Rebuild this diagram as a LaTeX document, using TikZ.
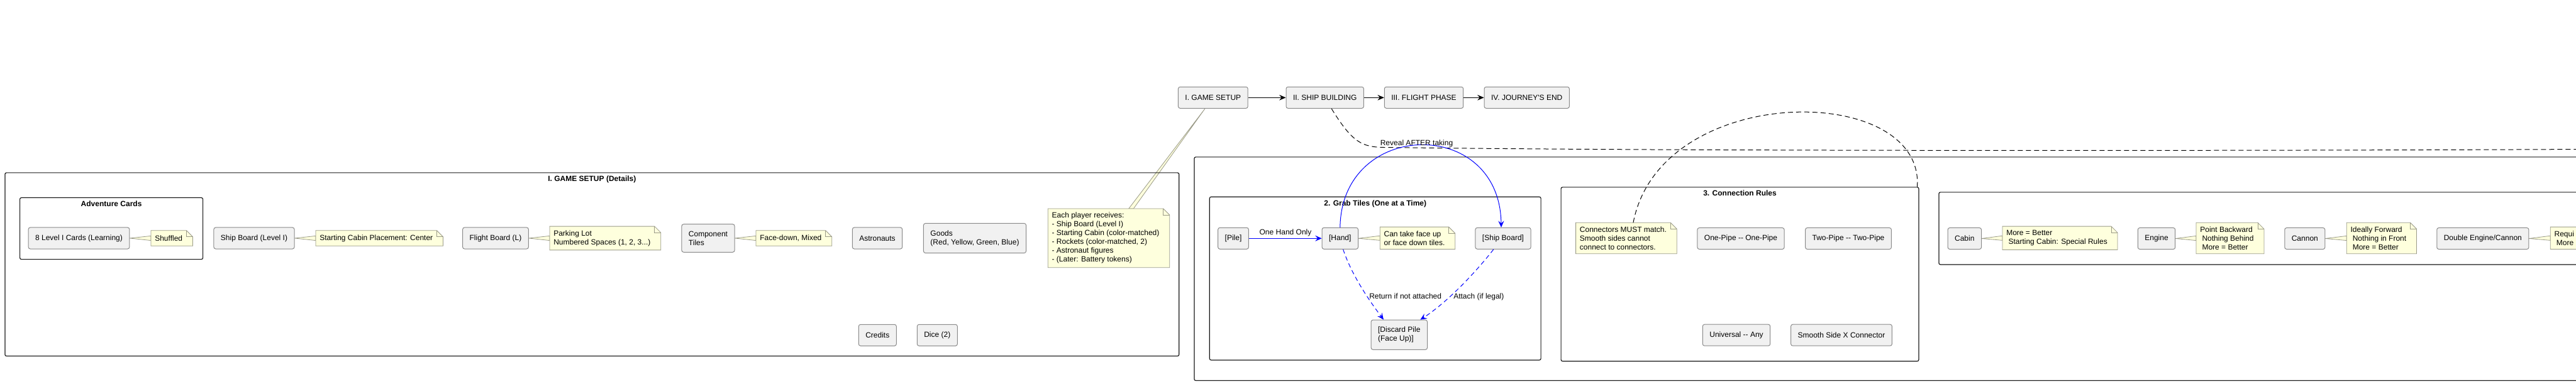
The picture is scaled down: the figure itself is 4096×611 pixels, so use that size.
\documentclass[tikz,border=0pt]{standalone}
\usepackage{fontspec}
\setmainfont{Liberation Sans}[Ligatures=TeXOff]
\usetikzlibrary{arrows.meta,backgrounds}
\definecolor{boxbg}{HTML}{F1F1F1}
\definecolor{boxline}{HTML}{8A8A8A}
\definecolor{notebg}{HTML}{FEFFDD}
\definecolor{noteline}{HTML}{9A9A88}
\definecolor{pkgline}{HTML}{181818}
\definecolor{flow}{HTML}{0000FF}
\tikzset{
  every node/.style={font=\fontsize{8.54pt}{9.96pt}\selectfont},
  comp/.style={draw=boxline, fill=boxbg, line width=0.25mm, rounded corners=0.75mm,
    inner xsep=2.75mm, inner ysep=2.75mm, minimum height=8.5mm, align=left},
  note/.style={inner xsep=1.5mm, inner ysep=1.5mm, minimum height=6mm, align=left, anchor=west},
  pkg/.style={draw=pkgline, line width=0.3mm, rounded corners=0.6mm, inner sep=0pt, anchor=north west},
  ttl/.style={font=\fontsize{8.54pt}{9.96pt}\selectfont\bfseries, inner sep=0pt, anchor=base},
  lab/.style={inner sep=0pt, anchor=base},
  seqarrow/.style={draw=black, line width=0.25mm, -{Stealth[length=2.6mm,width=2.2mm,inset=0.9mm]}},
  take/.style={draw=flow, line width=0.25mm, -{Stealth[length=2.6mm,width=2.3mm,inset=1mm]}},
  giveback/.style={take, dash pattern=on 1.75mm off 1.25mm},
  tether/.style={draw=black, line width=0.25mm, dash pattern=on 2mm off 1.25mm},
  nlink/.style={draw=noteline, fill=notebg, line width=0.2mm},
}
\newcommand{\padsp}{\hspace*{0.8mm}}
% note outline with folded corner, behind the text
\newcommand{\notebody}[1]{%
  \begin{scope}[on background layer]
    \draw[nlink] (#1.north west) -- (#1.north east) -- ([xshift=2.5mm,yshift=-2.5mm]#1.north east)
      -- ([xshift=2.5mm]#1.south east) -- (#1.south west) -- cycle;
    \draw[noteline, line width=0.2mm] (#1.north east) |- ([xshift=2.5mm,yshift=-2.5mm]#1.north east);
  \end{scope}}
% thin wedge from a box to its note
\newcommand{\notelink}[2]{%
  \begin{scope}[on background layer]
    \draw[nlink] (#1.east) -- ([yshift=0.9mm]#2.west) -- ([yshift=-0.9mm]#2.west) -- cycle;
  \end{scope}}

\begin{document}
\begin{tikzpicture}[x=0.25mm, y=-0.25mm]
\useasboundingbox (0,0) rectangle (4096,611);

% phases
\node[comp] (setup)  at (1928.8,155.3) {I. GAME SETUP};
\node[comp] (build)  at (2106.7,155.3) {II. SHIP BUILDING};
\node[comp] (flight) at (2264,155.3)   {III. FLIGHT PHASE};
\node[comp] (jend)   at (2427.7,155.3) {IV. JOURNEY'S END};
\draw[seqarrow] (setup) -- (build);
\draw[seqarrow] (build) -- (flight);
\draw[seqarrow] (flight) -- (jend);

% packages
\node[pkg, minimum width=466.7mm, minimum height=72.9mm] (setuppkg) at (7.3,274.3) {};
\node[ttl] at ([yshift=-3.6mm]setuppkg.north) {I. GAME SETUP (Details)};
\node[pkg, minimum width=72.75mm, minimum height=24.5mm] (advpkg) at (31,314) {};
\node[ttl] at ([yshift=-3.6mm]advpkg.north) {Adventure Cards};
\node[pkg, minimum width=575.4mm, minimum height=88.9mm] (buildpkg) at (1898.3,249.3) {};
\node[pkg, minimum width=131.7mm, minimum height=64.9mm] (grabpkg) at (1922.7,312.7) {};
\node[ttl] at ([yshift=-3.6mm]grabpkg.north) {2. Grab Tiles (One at a Time)};
\node[pkg, minimum width=142.2mm, minimum height=69.2mm] (connpkg) at (2481.5,297.3) {};
\node[ttl] at ([yshift=-3.6mm]connpkg.north) {3. Connection Rules};
\node[pkg, minimum width=279.4mm, minimum height=28.75mm] (partpkg) at (3082.3,305.3) {};

% game setup contents
\node[comp] (cards8) at (125.5,379) {8 Level I Cards (Learning)};
\node[note] (shufnote) at (240,379) {Shuffled};
\notelink{cards8}{shufnote}
\notebody{shufnote}

\node[comp] (shipbrd) at (404,379) {Ship Board (Level I)};
\node[note] (centernote) at (502,379) {Starting Cabin Placement: Center};
\notelink{shipbrd}{centernote}
\notebody{centernote}

\node[comp] (flightbrd) at (788,379) {Flight Board (L)};
\node[note] (parknote) at (874,379) {Parking Lot\\Numbered Spaces (1, 2, 3...)};
\notelink{flightbrd}{parknote}
\notebody{parknote}

\node[comp] (tiles) at (1126,379) {Component\\Tiles};
\node[note] (mixnote) at (1202,379) {Face-down, Mixed};
\notelink{tiles}{mixnote}
\notebody{mixnote}

\node[comp] (astro) at (1395,379) {Astronauts};
\node[comp] (goods) at (1550,379) {Goods\\(Red, Yellow, Green, Blue)};
\node[comp] (credits) at (1395.3,533.3) {Credits};
\node[comp] (dice) at (1490.3,533.3) {Dice (2)};

\node[note] (eachnote) at (1666.3,378.8) {Each player receives:\\- Ship Board (Level I)\\- Starting Cabin (color-matched)\\- Rockets (color-matched, 2)\\- Astronaut figures\\- (Later: Battery tokens)};
\begin{scope}[on background layer]
  \draw[nlink] ([xshift=-3.2mm]setup.south) -- ([xshift=9.2mm]eachnote.north) -- ([xshift=11.1mm]eachnote.north) -- cycle;
\end{scope}
\notebody{eachnote}

% ship building link
\draw[tether] ([xshift=2.6mm]build.south) .. controls (2150,226) and (2165,234) .. (2200,234.5)
  .. controls (2700,241) and (3600,240) .. (4110,237.5) coordinate (buildend);

% grab tiles
\node[comp] (pile) at (1961,379.3) {[Pile]};
\node[comp] (hand) at (2130.8,379.3) {[Hand]};
\node[note] (handnote) at (2194.3,378.8) {Can take face up\\or face down tiles.};
\notelink{hand}{handnote}
\notebody{handnote}
\node[comp] (shipb) at (2390,379.3) {[Ship Board]};
\node[comp] (discard) at (2224.8,532.7) {[Discard Pile\\(Face Up)]};

\draw[take] (pile) -- (hand);
\node[lab] at (2044,373.3) {One Hand Only};
\draw[take] (hand.north) .. controls (2133,190) and (2385,185) .. ([xshift=-0.75mm]shipb.north);
\node[lab] at (2252.5,231.6) {Reveal AFTER taking};
\draw[giveback] ([xshift=1.2mm]hand.south) .. controls (2150,440) and (2180,482) .. ([xshift=-6.2mm]discard.north);
\node[lab, anchor=base west] at (2177,475.3) {Return if not attached};
\draw[giveback] ([xshift=-3.8mm]shipb.south) .. controls (2345,435) and (2300,482) .. ([xshift=8.4mm]discard.north);
\node[lab, anchor=base west] at (2311,475.3) {Attach (if legal)};

% connection rules
\node[note] (connnote) at (2505.6,379) {Connectors MUST match.\\Smooth sides cannot\\connect to connectors.};
\notebody{connnote}
\draw[tether] ([xshift=4mm]connnote.north) .. controls (2640,130) and (3060,130) .. ([xshift=-0.75mm]connpkg.north east);
\node[comp] (onepipe) at (2768,379.5) {One-Pipe -- One-Pipe};
\node[comp] (twopipe) at (2939,379.5) {Two-Pipe -- Two-Pipe};
\node[comp] (universal) at (2761,533.2) {Universal -- Any};
\node[comp] (smooth) at (2928,533.2) {Smooth Side X Connector};

% component types
\node[comp] (cabin) at (3123.8,379.5) {Cabin};
\node[note] (cabinnote) at (3184,378.8) {More = Better\\\padsp Starting Cabin: Special Rules};
\notelink{cabin}{cabinnote}
\notebody{cabinnote}
\node[comp] (engine) at (3429,379.5) {Engine};
\node[note] (enginenote) at (3492,379) {Point Backward\\\padsp Nothing Behind\\\padsp More = Better};
\notelink{engine}{enginenote}
\notebody{enginenote}
\node[comp] (cannon) at (3664.8,379.5) {Cannon};
\node[note] (cannonnote) at (3731.3,379) {Ideally Forward\\\padsp Nothing in Front\\\padsp More = Better};
\notelink{cannon}{cannonnote}
\notebody{cannonnote}
\node[comp] (dbl) at (3947.8,379.5) {Double Engine/Cannon};
\node[note] (dblnote) at (4055.3,378.8) {Requi\\\padsp More};
\notelink{dbl}{dblnote}
\notebody{dblnote}
\end{tikzpicture}
\end{document}
